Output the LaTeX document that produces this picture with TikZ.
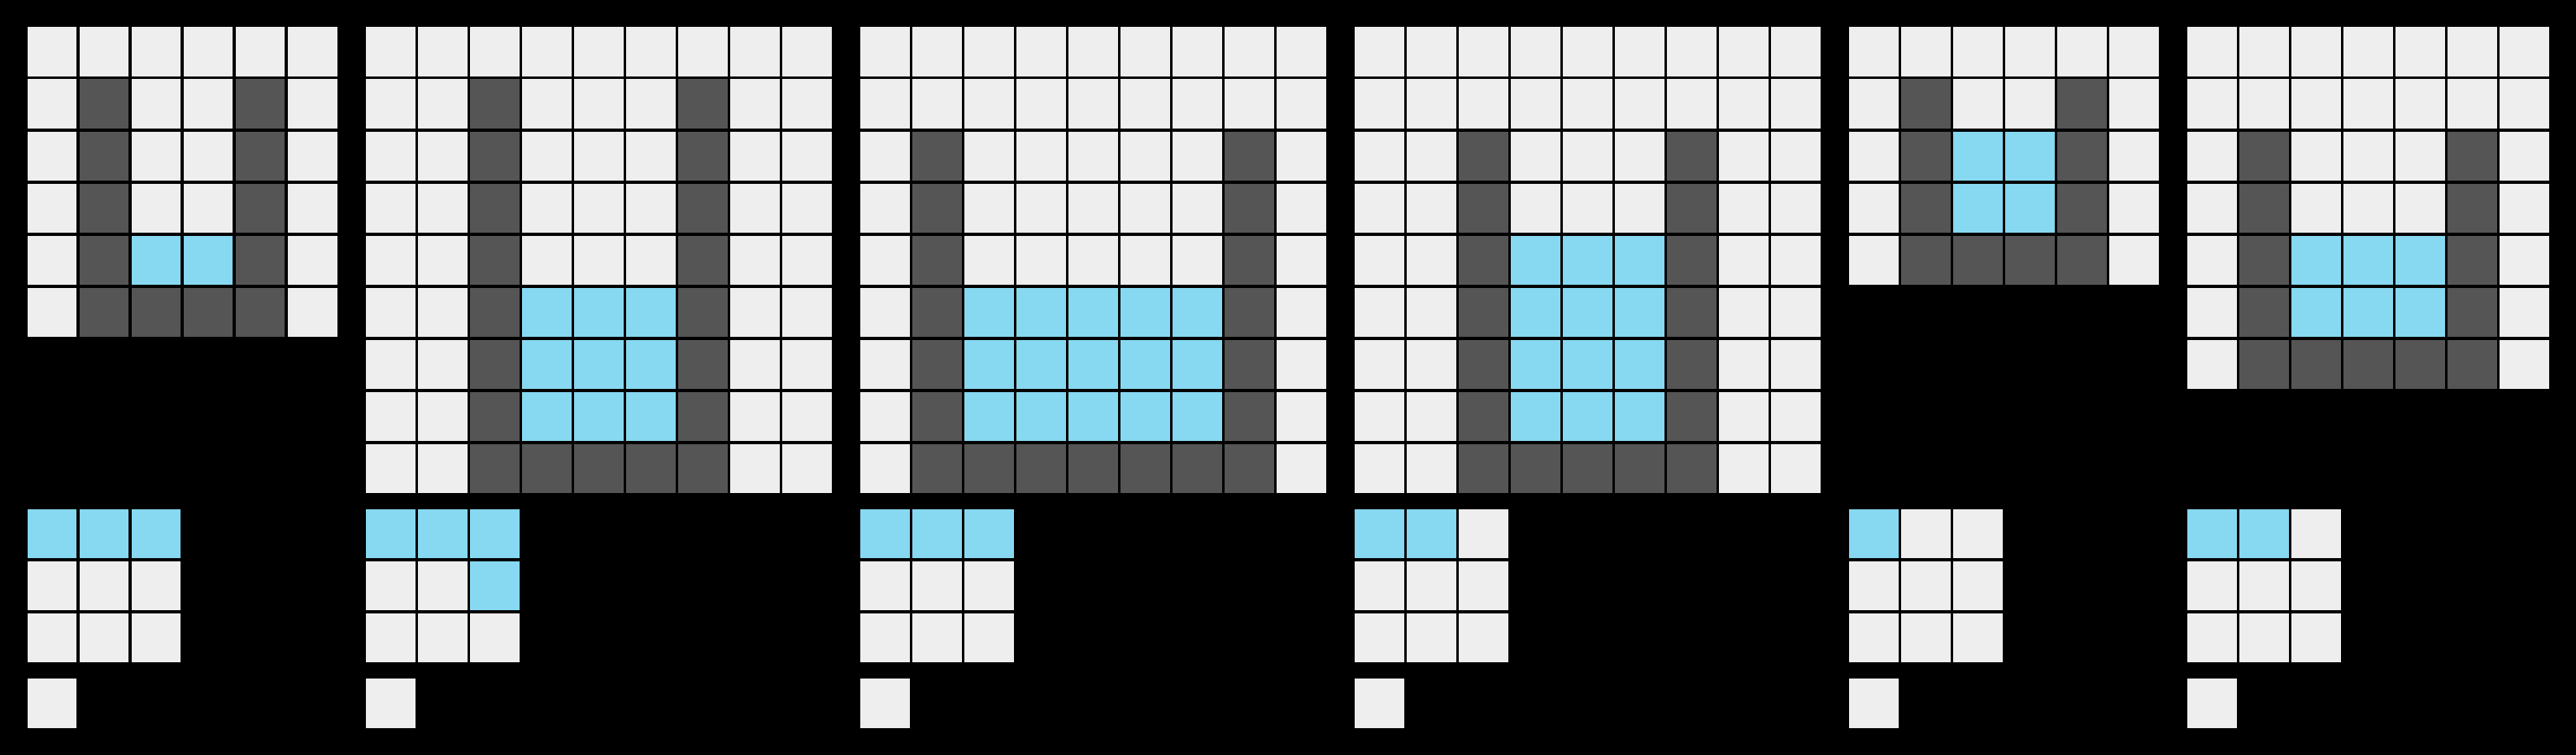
\documentclass[tikz,border=0pt]{standalone}
\usepackage{tikz}
\usetikzlibrary{positioning}

\definecolor{cellgray}{HTML}{EEEEEE}
\definecolor{walldark}{HTML}{555555}
\definecolor{waterblue}{HTML}{87D8F1}

\tikzset{
	cell/.style={draw=black,line width=0.67pt,fill=cellgray},
	wall/.style={cell,fill=walldark},
	water/.style={cell,fill=waterblue}
}

% fill columns #2..#3, rows #4..#5 of the current board with style #1
\newcommand{\cellblock}[5]{%
	\foreach \c in {#2,...,#3}
		\foreach \r in {#4,...,#5}
			\draw[#1] (\c,\r) rectangle ++(1,1);%
}

\begin{document}
\begin{tikzpicture}[x=0.5cm,y=-0.5cm]
	\fill[black] (0,0) rectangle (49.5,14.5);

	% pair 1
	\begin{scope}[shift={(0.5,0.5)}]
		\cellblock{cell}{0}{5}{0}{5}
		\cellblock{wall}{1}{1}{1}{5}
		\cellblock{wall}{4}{4}{1}{5}
		\cellblock{wall}{2}{3}{5}{5}
		\cellblock{water}{2}{3}{4}{4}
	\end{scope}
	\begin{scope}[shift={(0.5,9.75)}]
		\cellblock{cell}{0}{2}{0}{2}
		\cellblock{water}{0}{2}{0}{0}
	\end{scope}
	\begin{scope}[shift={(0.5,13)}]
		\cellblock{cell}{0}{0}{0}{0}
	\end{scope}

	% pair 2
	\begin{scope}[shift={(7,0.5)}]
		\cellblock{cell}{0}{8}{0}{8}
		\cellblock{wall}{2}{2}{1}{8}
		\cellblock{wall}{6}{6}{1}{8}
		\cellblock{wall}{3}{5}{8}{8}
		\cellblock{water}{3}{5}{5}{7}
	\end{scope}
	\begin{scope}[shift={(7,9.75)}]
		\cellblock{cell}{0}{2}{0}{2}
		\cellblock{water}{0}{2}{0}{0}
		\cellblock{water}{2}{2}{1}{1}
	\end{scope}
	\begin{scope}[shift={(7,13)}]
		\cellblock{cell}{0}{0}{0}{0}
	\end{scope}

	% pair 3
	\begin{scope}[shift={(16.5,0.5)}]
		\cellblock{cell}{0}{8}{0}{8}
		\cellblock{wall}{1}{1}{2}{8}
		\cellblock{wall}{7}{7}{2}{8}
		\cellblock{wall}{2}{6}{8}{8}
		\cellblock{water}{2}{6}{5}{7}
	\end{scope}
	\begin{scope}[shift={(16.5,9.75)}]
		\cellblock{cell}{0}{2}{0}{2}
		\cellblock{water}{0}{2}{0}{0}
	\end{scope}
	\begin{scope}[shift={(16.5,13)}]
		\cellblock{cell}{0}{0}{0}{0}
	\end{scope}

	% pair 4
	\begin{scope}[shift={(26,0.5)}]
		\cellblock{cell}{0}{8}{0}{8}
		\cellblock{wall}{2}{2}{2}{8}
		\cellblock{wall}{6}{6}{2}{8}
		\cellblock{wall}{3}{5}{8}{8}
		\cellblock{water}{3}{5}{4}{7}
	\end{scope}
	\begin{scope}[shift={(26,9.75)}]
		\cellblock{cell}{0}{2}{0}{2}
		\cellblock{water}{0}{1}{0}{0}
	\end{scope}
	\begin{scope}[shift={(26,13)}]
		\cellblock{cell}{0}{0}{0}{0}
	\end{scope}

	% pair 5
	\begin{scope}[shift={(35.5,0.5)}]
		\cellblock{cell}{0}{5}{0}{4}
		\cellblock{wall}{1}{1}{1}{4}
		\cellblock{wall}{4}{4}{1}{4}
		\cellblock{wall}{2}{3}{4}{4}
		\cellblock{water}{2}{3}{2}{3}
	\end{scope}
	\begin{scope}[shift={(35.5,9.75)}]
		\cellblock{cell}{0}{2}{0}{2}
		\cellblock{water}{0}{0}{0}{0}
	\end{scope}
	\begin{scope}[shift={(35.5,13)}]
		\cellblock{cell}{0}{0}{0}{0}
	\end{scope}

	% pair 6
	\begin{scope}[shift={(42,0.5)}]
		\cellblock{cell}{0}{6}{0}{6}
		\cellblock{wall}{1}{1}{2}{6}
		\cellblock{wall}{5}{5}{2}{6}
		\cellblock{wall}{2}{4}{6}{6}
		\cellblock{water}{2}{4}{4}{5}
	\end{scope}
	\begin{scope}[shift={(42,9.75)}]
		\cellblock{cell}{0}{2}{0}{2}
		\cellblock{water}{0}{1}{0}{0}
	\end{scope}
	\begin{scope}[shift={(42,13)}]
		\cellblock{cell}{0}{0}{0}{0}
	\end{scope}
\end{tikzpicture}
\end{document}
